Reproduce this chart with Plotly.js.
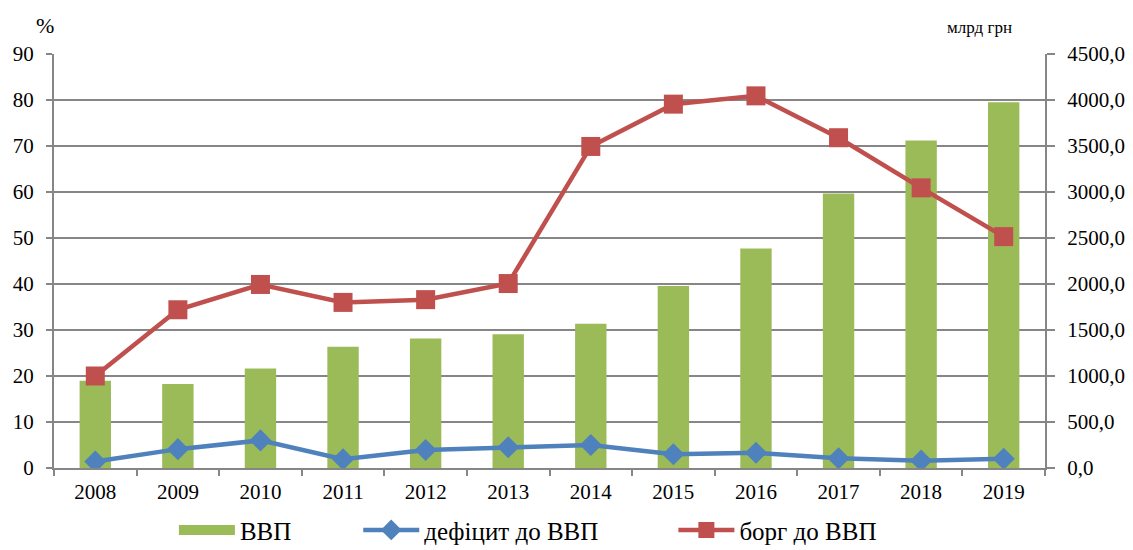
<!DOCTYPE html>
<html><head><meta charset="utf-8">
<script src="https://cdn.plot.ly/plotly-3.0.1.min.js"></script>
<style>html,body{margin:0;padding:0;background:#fff}#c{width:1133px;height:550px}</style>
</head><body><div id="c"></div>
<script>
const years = ['2008','2009','2010','2011','2012','2013','2014','2015','2016','2017','2018','2019'];
const gdp = [948.1, 913.3, 1082.6, 1316.6, 1408.9, 1454.9, 1566.7, 1979.5, 2385.4, 2983.9, 3560.6, 3974.6];
const deficit = [1.4, 4.1, 6.0, 1.9, 3.9, 4.5, 5.0, 3.0, 3.3, 2.1, 1.6, 2.0];
const debt = [20.0, 34.4, 39.9, 36.0, 36.6, 40.1, 69.9, 79.1, 80.9, 71.8, 60.9, 50.3];
const names = ['ВВП', 'дефіцит до ВВП', 'борг до ВВП'];
const leftTicks = [0,10,20,30,40,50,60,70,80,90];
const rightTicks = [0,500,1000,1500,2000,2500,3000,3500,4000,4500];

const font = 'Liberation Serif, Times New Roman, serif';
const traces = [
  {type:'bar', x:years, y:gdp, name:names[0], yaxis:'y', marker:{color:'#9BBB59'}, showlegend:false},
  {type:'scatter', mode:'lines+markers', x:years, y:deficit, name:names[1], yaxis:'y2',
   line:{color:'#4F81BD', width:4.5}, marker:{symbol:'diamond', size:17, color:'#4F81BD'}, legend:'legend2'},
  {type:'scatter', mode:'lines+markers', x:years, y:debt, name:names[2], yaxis:'y2',
   line:{color:'#C0504D', width:4.5}, marker:{symbol:'square', size:19, color:'#C0504D'}, legend:'legend3'},
  {type:'scatter', mode:'lines', x:[null], y:[null], name:names[0], yaxis:'y', hoverinfo:'skip',
   line:{color:'#9BBB59', width:14}, legend:'legend'}
];
const legBase = {orientation:'h', yref:'container', yanchor:'middle', y:0.036, xanchor:'left', font:{family:font, size:25, color:'#000'}, bgcolor:'rgba(0,0,0,0)', itemwidth:56};
const layout = {
  width:1133, height:550,
  margin:{l:54, r:88, t:54, b:82, autoexpand:false},
  paper_bgcolor:'#fff', plot_bgcolor:'#fff',
  separators:', ',
  font:{family:font, size:21, color:'#000'},
  bargap:0.62,
  xaxis:{type:'category', range:[-0.5, 11.5], tickson:'boundaries', ticks:'outside', ticklen:6, tickcolor:'#868686', tickwidth:2,
         showline:true, linecolor:'#868686', linewidth:2, showgrid:false, tickfont:{family:font, size:21}, ticklabelstandoff:4},
  yaxis:{side:'right', range:[0,4500], tickvals:rightTicks, tickformat:'.1f', showgrid:true, gridcolor:'#868686', gridwidth:2,
         showline:true, linecolor:'#868686', linewidth:2, ticks:'outside', ticklen:8, tickcolor:'#868686', tickwidth:2,
         zeroline:false, tickfont:{family:font, size:21}, ticklabelstandoff:8},
  yaxis2:{overlaying:'y', side:'left', range:[0,90], tickvals:leftTicks, showgrid:false,
          showline:true, linecolor:'#868686', linewidth:2, ticks:'outside', ticklen:6, tickcolor:'#868686', tickwidth:2,
          zeroline:false, tickfont:{family:font, size:21}, ticklabelstandoff:8},
  showlegend:true,
  legend:Object.assign({}, legBase, {x:0.121}),
  legend2:Object.assign({}, legBase, {x:0.307}),
  legend3:Object.assign({}, legBase, {x:0.625}),
  annotations:[
    {xref:'paper', yref:'paper', x:-0.009, y:1.07, xanchor:'center', yanchor:'middle', text:'%', showarrow:false, font:{family:font, size:22}},
    {xref:'paper', yref:'paper', x:0.934, y:1.065, xanchor:'center', yanchor:'middle', text:'млрд грн', showarrow:false, font:{family:font, size:17}}
  ]
};
Plotly.newPlot('c', traces, layout, {displayModeBar:false});
</script></body></html>
